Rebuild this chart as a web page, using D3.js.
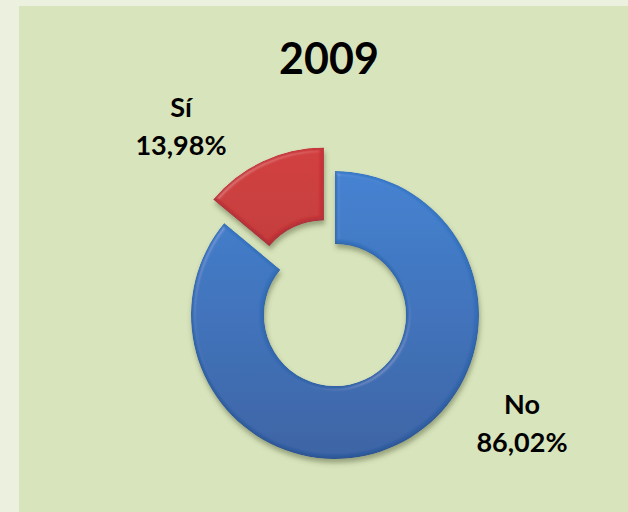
<!DOCTYPE html>
<html>
<head>
<meta charset="utf-8">
<script src="https://cdn.jsdelivr.net/npm/d3@7"></script>
<style>
  html, body { margin: 0; padding: 0; background: #ebf0df; }
  svg { display: block; }
</style>
</head>
<body>
<script>
// ---- data ----
const title = "2009";
const categories = ["No", "Sí"];
const values = [86.02, 13.98];
const valueLabels = ["86,02%", "13,98%"];

// ---- layout ----
const W = 628, H = 512;
const cx = 335, cy = 315, rOuter = 144, rInner = 71;
const explode = [0, 26];
const labelPos = [[522, 414], [181, 117]];
const fillTop = ["#3c82d4", "#d43838"];
const fillBot = ["#335fa2", "#a82b2b"];

const svg = d3.select("body").append("svg").attr("width", W).attr("height", H);
const defs = svg.append("defs");

// panel
svg.append("rect").attr("x", 19).attr("y", 6).attr("width", W - 19).attr("height", H - 6).attr("fill", "#d8e4bc");

// gradients (coordinates relative to the donut centre)
categories.forEach((c, i) => {
  const g = defs.append("linearGradient").attr("id", "grad" + i)
    .attr("gradientUnits", "userSpaceOnUse")
    .attr("x1", 0).attr("y1", -rOuter - 30).attr("x2", 0).attr("y2", rOuter);
  g.append("stop").attr("offset", "0%").attr("stop-color", fillTop[i]);
  g.append("stop").attr("offset", "100%").attr("stop-color", fillBot[i]);
});

// bevel + shadow filter
const f = defs.append("filter").attr("id", "bevel").attr("x", "-20%").attr("y", "-20%").attr("width", "140%").attr("height", "140%");
f.append("feGaussianBlur").attr("in", "SourceAlpha").attr("stdDeviation", 2).attr("result", "blur");
const spec = f.append("feSpecularLighting").attr("in", "blur").attr("surfaceScale", 3)
  .attr("specularConstant", 0.5).attr("specularExponent", 25).attr("lighting-color", "#ffffff").attr("result", "spec");
spec.append("feDistantLight").attr("azimuth", 225).attr("elevation", 45);
f.append("feComposite").attr("in", "spec").attr("in2", "SourceAlpha").attr("operator", "in").attr("result", "specIn");
// inner dark edge
f.append("feOffset").attr("in", "blur").attr("dx", 0).attr("dy", -1.5).attr("result", "offBlur");
f.append("feComposite").attr("in", "SourceAlpha").attr("in2", "offBlur").attr("operator", "out").attr("result", "edge");
f.append("feFlood").attr("flood-color", "#1a2f55").attr("flood-opacity", 0.5).attr("result", "edgeCol");
f.append("feComposite").attr("in", "edgeCol").attr("in2", "edge").attr("operator", "in").attr("result", "edgeShade");
f.append("feComposite").attr("in", "SourceGraphic").attr("in2", "specIn").attr("operator", "arithmetic")
  .attr("k1", 0).attr("k2", 1).attr("k3", 0.22).attr("k4", 0).attr("result", "lit");
f.append("feComposite").attr("in", "edgeShade").attr("in2", "lit").attr("operator", "over").attr("result", "lit2");
f.append("feComposite").attr("in", "lit2").attr("in2", "SourceAlpha").attr("operator", "in").attr("result", "final");
// drop shadow
f.append("feGaussianBlur").attr("in", "SourceAlpha").attr("stdDeviation", 2.5).attr("result", "sb");
f.append("feOffset").attr("in", "sb").attr("dx", 1).attr("dy", 4).attr("result", "so");
f.append("feFlood").attr("flood-color", "#4a5530").attr("flood-opacity", 0.45).attr("result", "sc");
f.append("feComposite").attr("in", "sc").attr("in2", "so").attr("operator", "in").attr("result", "shadow");
const m = f.append("feMerge");
m.append("feMergeNode").attr("in", "shadow");
m.append("feMergeNode").attr("in", "final");

// pie
const pie = d3.pie().sort(null).startAngle(0).endAngle(2 * Math.PI);
const arcs = pie(values);
const arc = d3.arc().innerRadius(rInner).outerRadius(rOuter);

const g = svg.append("g").attr("transform", `translate(${cx},${cy})`);
g.selectAll("path").data(arcs).enter().append("path")
  .attr("transform", (d, i) => {
    const a = (d.startAngle + d.endAngle) / 2;
    return `translate(${explode[i] * Math.sin(a)},${-explode[i] * Math.cos(a)})`;
  })
  .attr("d", arc)
  .attr("fill", (d, i) => `url(#grad${i})`)
  .attr("filter", "url(#bevel)");

// title
svg.append("text").attr("x", 329).attr("y", 74).attr("text-anchor", "middle")
  .attr("font-family", "Lato, 'Open Sans', sans-serif").attr("font-weight", "bold")
  .attr("font-size", 43).attr("fill", "#000").text(title);

// labels
categories.forEach((c, i) => {
  const t = svg.append("text").attr("text-anchor", "middle")
    .attr("font-family", "Lato, 'Open Sans', sans-serif").attr("font-weight", "bold")
    .attr("font-size", 27).attr("fill", "#000");
  t.append("tspan").attr("x", labelPos[i][0]).attr("y", labelPos[i][1]).text(c);
  t.append("tspan").attr("x", labelPos[i][0]).attr("y", labelPos[i][1] + 38).text(valueLabels[i]);
});
</script>
</body>
</html>
